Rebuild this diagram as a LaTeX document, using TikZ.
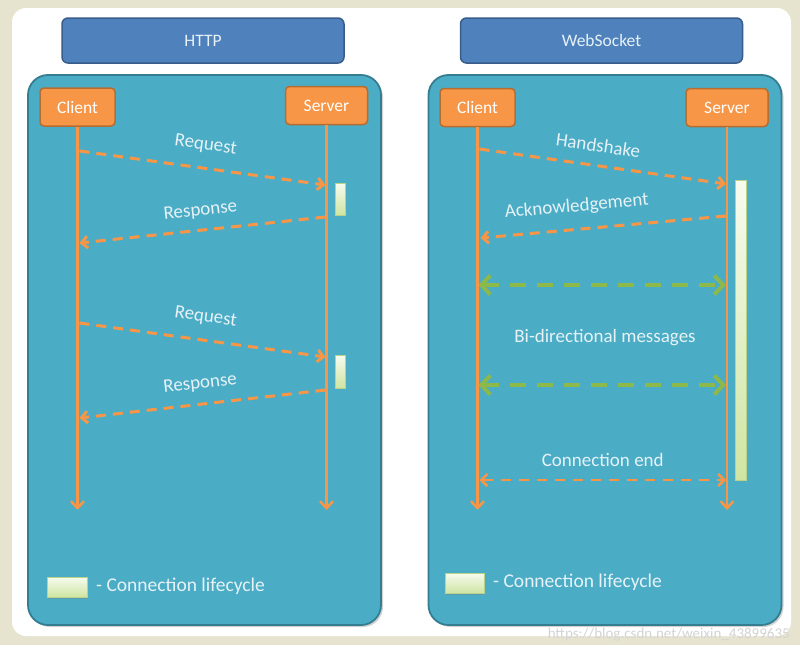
\documentclass[tikz,border=0pt]{standalone}
\usepackage{fontspec}
\setmainfont{Carlito}
\usetikzlibrary{arrows.meta,shadows}
\definecolor{beige}{HTML}{E6E4CF}
\definecolor{panelfill}{HTML}{4BACC6}
\definecolor{paneldraw}{HTML}{357D91}
\definecolor{hdrfill}{HTML}{4F81BD}
\definecolor{hdrdraw}{HTML}{385D8A}
\definecolor{orfill}{HTML}{F79646}
\definecolor{ordraw}{HTML}{B66D31}
\definecolor{grn}{HTML}{8DB84A}
\definecolor{lbl}{HTML}{E6F2F6}
\definecolor{bartop}{HTML}{F7FBEF}
\definecolor{barbot}{HTML}{CFE5A3}
\definecolor{bardraw}{HTML}{B9D48A}
\definecolor{wm}{HTML}{D4D4D4}
\tikzset{
  txt/.style={font=\fontsize{19}{22}\selectfont},
  boxtxt/.style={font=\fontsize{17.5}{20}\selectfont},
  header/.style={boxtxt, draw=hdrdraw, line width=1.5pt, fill=hdrfill, rounded corners=6pt, text=lbl, minimum width=282pt, minimum height=45pt},
  panelbox/.style={draw=paneldraw, line width=1.8pt, fill=panelfill, rounded corners=20pt, minimum width=353pt, minimum height=550pt, drop shadow={opacity=0.35, shadow xshift=2pt, shadow yshift=-2pt}},
  actor/.style={boxtxt, draw=ordraw, line width=1.5pt, fill=orfill, rounded corners=4pt, text=white, minimum height=38pt},
  lifeline/.style={draw=orfill, line width=2.5pt, -{Straight Barb[length=7pt,width=13pt]}},
  msg/.style={draw=orfill, line width=3pt, dash pattern=on 10pt off 7pt, -{Straight Barb[length=6pt,width=12pt]}},
  bimsg/.style={draw=grn, line width=4pt, dash pattern=on 16pt off 11pt, {Straight Barb[length=9pt,width=19pt]}-{Straight Barb[length=9pt,width=19pt]}},
  endmsg/.style={draw=orfill, line width=2.5pt, dash pattern=on 10pt off 8pt, {Straight Barb[length=6pt,width=12pt]}-{Straight Barb[length=6pt,width=12pt]}},
  lab/.style={txt, text=lbl, sloped, above, inner sep=12pt},
  actbar/.style={draw=bardraw, line width=0.6pt, top color=bartop, bottom color=barbot, inner sep=0pt},
  legbox/.style={actbar, minimum width=40pt, minimum height=20pt, drop shadow={opacity=0.3, shadow xshift=1pt, shadow yshift=-1.5pt}},
  legtxt/.style={font=\fontsize{19.5}{22}\selectfont, text=lbl, anchor=west, inner sep=0pt},
}
\begin{document}
\begin{tikzpicture}[x=1pt,y=-1pt]
\useasboundingbox (0,0) rectangle (800,653);
\fill[beige] (0,0) rectangle (800,645);
\fill[white, rounded corners=14pt] (12,8) rectangle (791,636);

% headers
\node[header] (h1) at (203,40.5) {HTTP};
\node[header] (h2) at (601.5,40.5) {WebSocket};

% panels
\node[panelbox] (p1) at (204.5,350) {};
\node[panelbox] (p2) at (605,350) {};

% ---------------- HTTP ----------------
\node[actor, minimum width=75pt] (c1) at (77.5,107) {Client};
\node[actor, minimum width=82pt] (s1) at (326.5,105.5) {Server};
\coordinate (c1end) at (c1.south |- 0,510);
\coordinate (s1end) at (s1.south |- 0,510);
\draw[lifeline] (c1.south) -- (c1end);
\draw[lifeline] (s1.south) -- (s1end);

\node[actbar, minimum width=10pt, minimum height=32pt] (a1) at (340,199) {};
\node[actbar, minimum width=10pt, minimum height=33pt] (a2) at (340,371.5) {};

\coordinate (r1a) at ([xshift=2pt]c1.south |- 0,151);
\coordinate (r1b) at ([xshift=-1pt]s1.south |- 0,185);
\coordinate (q1a) at ([xshift=-1pt]s1.south |- 0,217);
\coordinate (q1b) at ([xshift=2pt]c1.south |- 0,243);
\coordinate (r2a) at ([xshift=2pt]c1.south |- 0,323);
\coordinate (r2b) at ([xshift=-1pt]s1.south |- 0,357);
\coordinate (q2a) at ([xshift=-1pt]s1.south |- 0,390);
\coordinate (q2b) at ([xshift=2pt]c1.south |- 0,418);
\draw[msg] (r1a) -- node[lab, inner sep=14pt] (lr1) {Request} (r1b);
\draw[msg] (q1a) -- node[lab, inner sep=10pt] (lq1) {Response} (q1b);
\draw[msg] (r2a) -- node[lab, inner sep=14pt] (lr2) {Request} (r2b);
\draw[msg] (q2a) -- node[lab, inner sep=11pt] (lq2) {Response} (q2b);

\node[legbox] (lg1) at (67,587) {};
\node[legtxt] (lt1) at (96,586) {- Connection lifecycle};

% ---------------- WebSocket ----------------
\node[actor, minimum width=75pt] (c2) at (477.5,107.5) {Client};
\node[actor, minimum width=82pt] (s2) at (727,107.5) {Server};
\coordinate (c2end) at (c2.south |- 0,510);
\coordinate (s2end) at (s2.south |- 0,510);
\draw[lifeline] (c2.south) -- (c2end);
\draw[lifeline] (s2.south) -- (s2end);

\node[actbar, minimum width=11pt, minimum height=300pt] (a3) at (740.5,330) {};

\coordinate (h2a) at ([xshift=2pt]c2.south |- 0,149);
\coordinate (h2b) at ([xshift=-1pt]s2.south |- 0,184);
\coordinate (k2a) at ([xshift=-1pt]s2.south |- 0,216);
\coordinate (k2b) at ([xshift=3pt]c2.south |- 0,238);
\draw[msg] (h2a) -- node[lab, pos=0.47] (lh) {Handshake} (h2b);
\draw[msg] (k2a) -- node[lab, pos=0.6, inner sep=13pt] (lk) {Acknowledgement} (k2b);

\coordinate (b1a) at ([xshift=1pt]c2.south |- 0,285);
\coordinate (b1b) at ([xshift=-1pt]s2.south |- 0,285);
\coordinate (b2a) at ([xshift=1pt]c2.south |- 0,385);
\coordinate (b2b) at ([xshift=-1pt]s2.south |- 0,385);
\draw[bimsg] (b1a) -- (b1b);
\draw[bimsg] (b2a) -- (b2b);
\node[txt, text=lbl] (lbi) at (605,338) {Bi-directional messages};

\coordinate (e2a) at ([xshift=2pt]c2.south |- 0,480);
\coordinate (e2b) at ([xshift=-1pt]s2.south |- 0,480);
\draw[endmsg] (e2a) -- node[txt, text=lbl, above, inner sep=12pt] (le) {Connection end} (e2b);

\node[legbox, minimum width=39pt] (lg2) at (464.5,583) {};
\node[legtxt] (lt2) at (493,582) {- Connection lifecycle};

% watermark
\node[font=\fontsize{15}{17}\selectfont, text=wm, anchor=east, inner sep=0pt] (wmk) at (790,635) {https://blog.csdn.net/weixin\_43899635};
\end{tikzpicture}
\end{document}
